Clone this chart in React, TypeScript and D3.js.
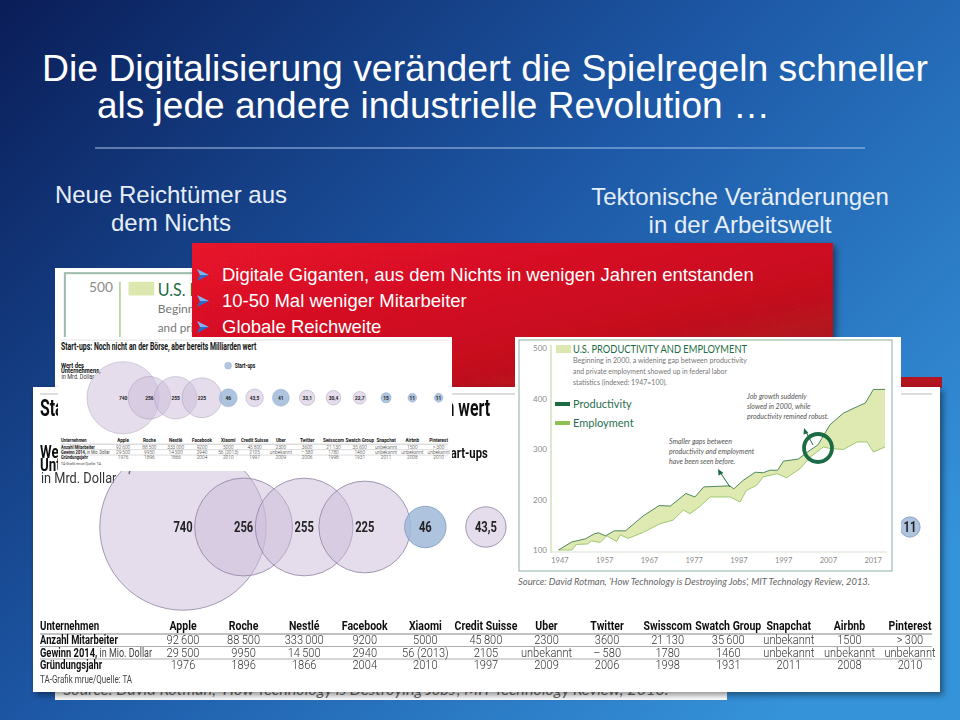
import React from 'react';
import * as d3 from 'd3';

// ---------- Data ----------
const titleLines = ['Die Digitalisierung verändert die Spielregeln schneller', 'als jede andere industrielle Revolution …'];
const leftSub = ['Neue Reichtümer aus', 'dem Nichts'];
const rightSub = ['Tektonische Veränderungen', 'in der Arbeitswelt'];
const bullets = ['Digitale Giganten, aus dem Nichts in wenigen Jahren entstanden', '10-50 Mal weniger Mitarbeiter', 'Globale Reichweite'];

const companies = ['Apple', 'Roche', 'Nestlé', 'Facebook', 'Xiaomi', 'Credit Suisse', 'Uber', 'Twitter', 'Swisscom', 'Swatch Group', 'Snapchat', 'Airbnb', 'Pinterest'];
const companyValues = [740, 256, 255, 225, 46, 43.5, 41, 33.1, 30.4, 22.7, 15, 11, 11];
const startupFlags = [false, false, false, false, true, false, true, false, false, false, true, true, true];
const employees = ['92\u2009600', '88\u2009500', '333\u2009000', '9200', '5000', '45\u2009800', '2300', '3600', '21\u2009130', '35\u2009600', 'unbekannt', '1500', '>\u2009300'];
const profit2014 = ['29\u2009500', '9950', '14\u2009500', '2940', '56 (2013)', '2105', 'unbekannt', '–\u2009580', '1780', '1460', 'unbekannt', 'unbekannt', 'unbekannt'];
const founded = ['1976', '1896', '1866', '2004', '2010', '1997', '2009', '2006', '1998', '1931', '2011', '2008', '2010'];

const prodYears = [1947, 1950, 1953, 1955, 1956, 1957.5, 1959.5, 1962, 1966, 1969.5, 1972, 1975.5, 1977.5, 1979.5, 1985.3, 1986.2, 1988.3, 1991, 1992.8, 1994.3, 1996, 1997.3, 2000.6, 2003.3, 2005, 2007.7, 2010.7, 2013.8, 2015.6, 2017.4, 2020];
const prodValues = [100, 116, 122, 132, 134, 128, 138, 138, 168, 188, 187, 212, 205, 225, 227, 221, 238, 254, 253, 258, 258, 276, 280, 298, 308, 348, 371, 384, 391, 418, 418];
const empYears = [1947, 1950, 1951, 1953.5, 1954.4, 1956.3, 1957.8, 1960, 1960.8, 1962.6, 1966, 1969.7, 1972.6, 1974.9, 1976.4, 1978.6, 1980.9, 1985.4, 1987.6, 1989, 1991.3, 1992.8, 1995.9, 1998, 2001, 2003.3, 2006.2, 2007.7, 2010.7, 2013.8, 2016, 2017.4, 2020];
const empValues = [100, 100, 111, 112, 118, 115, 128, 117, 130, 123, 135, 152, 159, 179, 172, 186, 205, 205, 195, 218, 228, 245, 251, 243, 261, 284, 304, 301, 299, 314, 314, 294, 304];
const yTicks = [100, 200, 300, 400, 500];
const xTicks = [1947, 1957, 1967, 1977, 1987, 1997, 2007, 2017];

const COND = "Roboto,'Liberation Sans',sans-serif";
const ARIAL = "'Liberation Sans',Arial,sans-serif";
const ROUND = "'Lato','Noto Sans',sans-serif";

// condensed text helper: horizontal squeeze
function CText({ x, y, sx = 0.78, children, ...rest }: any) {
  return (
    <text transform={`translate(${x},${y}) scale(${sx},1)`} {...rest}>{children}</text>
  );
}

// ---------- Bubble panel (local coords 907 x 305) ----------
function BubblePanel() {
  const x = d3.scalePoint<string>().domain(companies).range([150, 877]);
  const r = d3.scaleSqrt().domain([0, 740]).range([0, 83.2]);
  const rowsY = [257, 269.5, 282];
  const rows = [
    { label: 'Anzahl Mitarbeiter', extra: '', vals: employees },
    { label: 'Gewinn 2014,', extra: ' in Mio. Dollar', vals: profit2014 },
    { label: 'Gründungsjahr', extra: '', vals: founded },
  ];
  const fmt = (v: number) => String(v).replace('.', ',');
  return (
    <g fontFamily={COND}>
      <rect x={0} y={0} width={907} height={305} fill="#fff" />
      <line x1={7} x2={899} y1={7} y2={7} stroke="#aaa" strokeWidth={0.8} />
      <text x={7} y={29} fontSize={24} fontWeight={700} fill="#111" textLength={450} lengthAdjust="spacingAndGlyphs">
        Start-ups: Noch nicht an der Börse, aber bereits Milliarden wert
      </text>
      <CText x={7} y={71} sx={0.74} fontSize={18} fontWeight={700} fill="#111">Wert des</CText>
      <CText x={7} y={84} sx={0.74} fontSize={18} fontWeight={700} fill="#111">Unternehmens,</CText>
      <CText x={8} y={96} sx={0.85} fontSize={15} fill="#333">in Mrd. Dollar</CText>
      <circle cx={392} cy={66} r={8} fill="#b5c7e0" stroke="#8aa3c4" strokeWidth={0.8} />
      <CText x={407} y={71} sx={0.75} fontSize={15} fontWeight={700} fill="#111">Start-ups</CText>
      {companies.map((c, i) => (
        <circle key={'b' + c} cx={x(c)} cy={140} r={r(companyValues[i])}
          fill={startupFlags[i] ? '#9fb8d8' : '#cbbcd9'} fillOpacity={startupFlags[i] ? 0.85 : 0.5}
          stroke={startupFlags[i] ? '#7f9cc0' : '#8e82a0'} strokeWidth={0.8} />
      ))}
      {companies.map((c, i) => (
        <CText key={'l' + c} x={x(c)} y={145} sx={0.8} textAnchor="middle" fontSize={14} fontWeight={700} fill="#222">{fmt(companyValues[i])}</CText>
      ))}
      <CText x={7} y={243} sx={0.72} fontSize={13.5} fontWeight={700} fill="#111">Unternehmen</CText>
      {companies.map((c) => (
        <CText key={'h' + c} x={x(c)} y={243} sx={0.78} textAnchor="middle" fontSize={13.5} fontWeight={700} fill="#111">{c}</CText>
      ))}
      {[247, 259.5, 272].map((ly, i) => (
        <line key={'ln' + i} x1={7} x2={899} y1={ly} y2={ly} stroke={i === 0 ? '#666' : '#999'} strokeWidth={0.8} />
      ))}
      {rows.map((row, ri) => (
        <g key={'r' + ri}>
          <CText x={7} y={rowsY[ri]} sx={0.72} fontSize={13} fill="#111">
            <tspan fontWeight={700}>{row.label}</tspan>
            {row.extra ? <tspan fill="#444" fontWeight={400} fontSize={12.5}>{row.extra}</tspan> : null}
          </CText>
          {companies.map((c, i) => (
            <CText key={c} x={x(c)} y={rowsY[ri]} sx={0.82} textAnchor="middle" fontSize={13.5} fontWeight={300} fill="#333">{row.vals[i]}</CText>
          ))}
        </g>
      ))}
      <CText x={7} y={296} sx={0.8} fontSize={10} fill="#444">TA-Grafik mrue/Quelle: TA</CText>
    </g>
  );
}

// ---------- Productivity chart (local coords 386 x 258) ----------
function ProdChart() {
  const x = d3.scaleLinear().domain([1946, 2020]).range([39, 370]);
  const y = d3.scaleLinear().domain([100, 500]).range([213, 11]);
  const prodPts: [number, number][] = prodYears.map((yr, i) => [yr, prodValues[i]]);
  const empPts: [number, number][] = empYears.map((yr, i) => [yr, empValues[i]]);
  const line = d3.line<[number, number]>().x((d) => x(d[0])).y((d) => y(d[1]));
  const areaPath = line([...prodPts, ...empPts.slice().reverse()]) + 'Z';
  const dark = '#1d6b45';
  return (
    <g fontFamily={ROUND}>
      <rect x={0} y={0} width={386} height={258} fill="#fff" />
      <rect x={4} y={3} width={373} height={231} fill="none" stroke="#9fbcae" strokeWidth={1.2} />
      <line x1={36} x2={36} y1={8} y2={216} stroke="#b9d39a" strokeWidth={1} />
      <line x1={36} x2={372} y1={215} y2={215} stroke="#cfdcc8" strokeWidth={0.8} />
      {yTicks.map((t) => (
        <text key={'y' + t} x={25} y={y(t) + 3} textAnchor="middle" fontSize={8} fill="#8a8a8a">{t}</text>
      ))}
      {xTicks.map((t) => (
        <text key={'x' + t} x={x(t) + 1.5} y={226} textAnchor="middle" fontSize={7.5} fill="#8a8a8a">{t}</text>
      ))}
      <path d={areaPath} fill="#dfeab3" stroke="none" />
      <path d={line(empPts) || ''} fill="none" stroke="#96c267" strokeWidth={0.9} />
      <path d={line(prodPts) || ''} fill="none" stroke="#3c7a4f" strokeWidth={0.9} />
      <rect x={41} y={8} width={15} height={8} fill="#dde8b0" />
      <text x={58} y={16} fontSize={10.5} fill={dark} textLength={174} lengthAdjust="spacingAndGlyphs">U.S. PRODUCTIVITY AND EMPLOYMENT</text>
      <text x={58} y={26} fontSize={6.8} fill="#777" textLength={174} lengthAdjust="spacingAndGlyphs">Beginning in 2000, a widening gap between productivity</text>
      <text x={58} y={37} fontSize={6.8} fill="#777" textLength={154} lengthAdjust="spacingAndGlyphs">and private employment showed up in federal labor</text>
      <text x={58} y={48} fontSize={6.8} fill="#777" textLength={94} lengthAdjust="spacingAndGlyphs">statistics (indexed: 1947=100).</text>
      <rect x={40} y={65} width={15} height={4} fill={dark} />
      <text x={58} y={71} fontSize={11} fill="#2a6e50">Productivity</text>
      <rect x={40} y={84} width={15} height={4} fill="#8cc152" />
      <text x={58} y={90} fontSize={11} fill="#2a6e50">Employment</text>
      <g fontStyle="italic" fontSize={7} fill="#555">
        <text x={154} y={107}>Smaller gaps between</text>
        <text x={154} y={117}>productivity and employment</text>
        <text x={154} y={127}>have been seen before.</text>
        <text x={232} y={62}>Job growth suddenly</text>
        <text x={232} y={72}>slowed in 2000, while</text>
        <text x={232} y={82}>productivity remined robust.</text>
      </g>
      <line x1={215} y1={150} x2={205} y2={135} stroke={dark} strokeWidth={1} />
      <path d="M203,132 L208.5,136 L203.5,138.5 Z" fill={dark} />
      <line x1={298} y1={108} x2={290.5} y2={94} stroke={dark} strokeWidth={1} />
      <path d="M289,91 L293.5,96 L288.5,97.5 Z" fill={dark} />
      <circle cx={303} cy={111} r={14} fill="none" stroke={dark} strokeWidth={3.8} />
      <text x={3} y={248} fontSize={8.8} fontStyle="italic" fill="#666" textLength={352} lengthAdjust="spacingAndGlyphs">
        Source: David Rotman, ‘How Technology is Destroying Jobs’, MIT Technology Review, 2013.
      </text>
    </g>
  );
}

function Bullet({ x, y }: { x: number; y: number }) {
  return (
    <g transform={`translate(${x},${y})`}>
      <path d="M0,-6 L12,0 L3,0 Z" fill="#7fb2f0" />
      <path d="M0,6 L12,0 L3,0 Z" fill="#2a6cc8" />
    </g>
  );
}

export default function App() {
  return (
    <svg width={960} height={720} viewBox="0 0 960 720" style={{ position: 'absolute', left: 0, top: 0, display: 'block' }}>
      <defs>
        <linearGradient id="bg" x1="0" y1="0" x2="1" y2="0.75">
          <stop offset="0" stopColor="#0a1d58" />
          <stop offset="0.5" stopColor="#1d58a6" />
          <stop offset="1" stopColor="#3593da" />
        </linearGradient>
        <linearGradient id="red" x1="0" y1="0" x2="1" y2="1">
          <stop offset="0" stopColor="#e8122b" />
          <stop offset="0.6" stopColor="#c8101f" />
          <stop offset="1" stopColor="#9c1520" />
        </linearGradient>
        <filter id="sh" x="-10%" y="-10%" width="130%" height="130%">
          <feDropShadow dx="3" dy="3" stdDeviation="3" floodColor="#000" floodOpacity="0.45" />
        </filter>
        <clipPath id="bigProdClip"><rect x={0} y={0} width={672 / 1.72} height={432 / 1.72} /></clipPath>
        <clipPath id="insetClip"><rect x={0} y={0} width={394 / 0.434} height={134 / 0.434} /></clipPath>
      </defs>
      <rect x={0} y={0} width={960} height={720} fill="url(#bg)" />

      <g fontFamily={ARIAL} fill="#fff">
        <text x={42} y={81} fontSize={36} textLength={886} lengthAdjust="spacingAndGlyphs">{titleLines[0]}</text>
        <text x={97} y={118} fontSize={36} textLength={673} lengthAdjust="spacingAndGlyphs">{titleLines[1]}</text>
      </g>
      <line x1={95} x2={865} y1={148} y2={148} stroke="#a9c4e8" strokeWidth={1} />
      <g fontFamily={ARIAL} fill="#e6eef9" fontSize={24} textAnchor="middle">
        <text x={171} y={203}>{leftSub[0]}</text>
        <text x={171} y={231}>{leftSub[1]}</text>
        <text x={740} y={205}>{rightSub[0]}</text>
        <text x={740} y={233}>{rightSub[1]}</text>
      </g>

      {/* big productivity chart behind */}
      <rect x={55} y={268} width={672} height={432} fill="#fff" />
      <g transform="translate(58,268) scale(1.72)">
        <g clipPath="url(#bigProdClip)"><ProdChart /></g>
      </g>

      {/* red box */}
      <rect x={901} y={377} width={41} height={11} fill="#b3141f" />
      <rect x={192} y={243} width={641} height={144} fill="url(#red)" filter="url(#sh)" />
      <g fontFamily={ARIAL} fill="#fff" fontSize={18.5}>
        {bullets.map((b, i) => (
          <g key={b}>
            <Bullet x={197} y={275 + i * 26} />
            <text x={222} y={281 + i * 26}>{b}</text>
          </g>
        ))}
      </g>

      {/* big bubble panel */}
      <g transform="translate(33,387)" filter="url(#sh)"><BubblePanel /></g>

      {/* small bubble inset */}
      <rect x={58} y={337} width={394} height={134} fill="#fff" />
      <g transform="translate(58,337) scale(0.434)">
        <g clipPath="url(#insetClip)"><BubblePanel /></g>
      </g>

      {/* small productivity chart */}
      <g transform="translate(515,337)"><ProdChart /></g>
    </svg>
  );
}
